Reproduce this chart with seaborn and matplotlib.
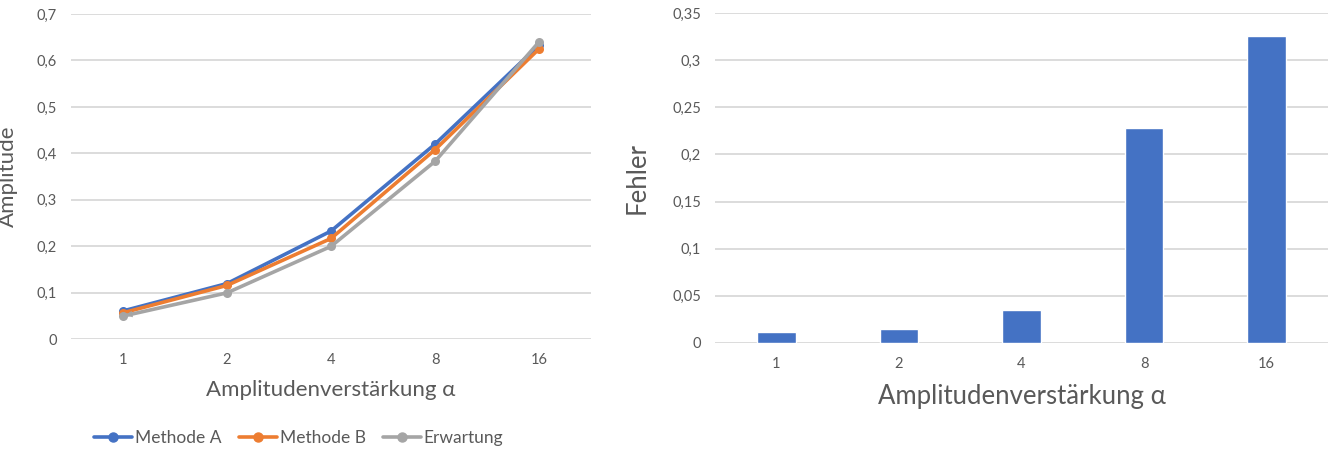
import matplotlib
matplotlib.use("Agg")
import matplotlib.pyplot as plt
import seaborn as sns
import pandas as pd
from matplotlib.ticker import FuncFormatter, MultipleLocator

alpha_labels = ["1", "2", "4", "8", "16"]
methode_a = [0.061, 0.120, 0.233, 0.420, 0.633]
methode_b = [0.057, 0.116, 0.217, 0.408, 0.625]
erwartung = [0.050, 0.100, 0.200, 0.383, 0.640]
fehler = [0.011, 0.0142, 0.0344, 0.2285, 0.326]

blue = "#4472C4"
orange = "#ED7D31"
gray = "#A5A5A5"
text_col = "#595959"
grid_col = "#D9D9D9"

sns.set_theme(style="white")
plt.rcParams["font.family"] = ["Lato", "DejaVu Sans"]

lines = pd.DataFrame({
    "alpha": alpha_labels * 3,
    "amplitude": methode_a + methode_b + erwartung,
    "serie": ["Methode A"] * 5 + ["Methode B"] * 5 + ["Erwartung"] * 5,
})
bars = pd.DataFrame({"alpha": alpha_labels, "fehler": fehler})

comma = FuncFormatter(lambda v, p: ("%g" % round(v, 3)).replace(".", ","))

fig = plt.figure(figsize=(13.28, 4.5), dpi=100)
ax1 = fig.add_axes([0.0535, 0.246, 0.3916, 0.723])
ax2 = fig.add_axes([0.5384, 0.2384, 0.4616, 0.732])

# left: amplitudes
sns.lineplot(data=lines, x="alpha", y="amplitude", hue="serie", ax=ax1,
             palette=[blue, orange, gray], marker="o", markersize=6.5,
             markeredgewidth=0, linewidth=2.6, sort=False, legend=False)
# arrow at the start of the Erwartung line
ax1.annotate("", xy=(0, erwartung[0]), xytext=(0.2, erwartung[0] + 0.2 * (erwartung[1] - erwartung[0])),
             arrowprops=dict(arrowstyle="-|>", color=gray, lw=0, mutation_scale=12), zorder=5)
ax1.set_xlim(-0.5, 4.5)
ax1.set_ylim(0, 0.7)
ax1.yaxis.set_major_locator(MultipleLocator(0.1))
ax1.yaxis.set_major_formatter(comma)
ax1.set_xlabel("Amplitudenverstärkung α", fontsize=16, color=text_col, labelpad=9)
ax1.set_ylabel("Amplitude", fontsize=16, color=text_col)
ax1.yaxis.set_label_coords(-0.102, 0.5)

# right: error bars
sns.barplot(data=bars, x="alpha", y="fehler", ax=ax2, color=blue,
            width=0.315, saturation=1)
ax2.set_xlim(-0.5, 4.5)
ax2.set_ylim(0, 0.35)
ax2.yaxis.set_major_locator(MultipleLocator(0.05))
ax2.yaxis.set_major_formatter(comma)
ax2.set_xlabel("Amplitudenverstärkung α", fontsize=18.5, color=text_col, labelpad=10)
ax2.set_ylabel("Fehler", fontsize=18.5, color=text_col)
ax2.yaxis.set_label_coords(-0.106, 0.5)

for ax in (ax1, ax2):
    ax.grid(axis="y", color=grid_col, linewidth=1.3)
    ax.set_axisbelow(True)
    for s in ax.spines.values():
        s.set_visible(False)
    ax.tick_params(axis="both", length=0, labelsize=10.5, labelcolor=text_col)
    ax.tick_params(axis="y", pad=10)
    ax.tick_params(axis="x", pad=10)

handles = [
    plt.Line2D([], [], color=blue, marker="o", markersize=6.5, lw=2.6),
    plt.Line2D([], [], color=orange, marker="o", markersize=6.5, lw=2.6),
    plt.Line2D([], [], color=gray, marker="o", markersize=6.5, lw=2.6),
]
fig.legend(handles, ["Methode A", "Methode B", "Erwartung"], loc="center",
           bbox_to_anchor=(0.225, 0.027), ncol=3, frameon=False,
           fontsize=12.5, labelcolor=text_col, handlelength=2.2,
           handletextpad=0.15, columnspacing=1.0)

fig.savefig("out.png", dpi=100)
